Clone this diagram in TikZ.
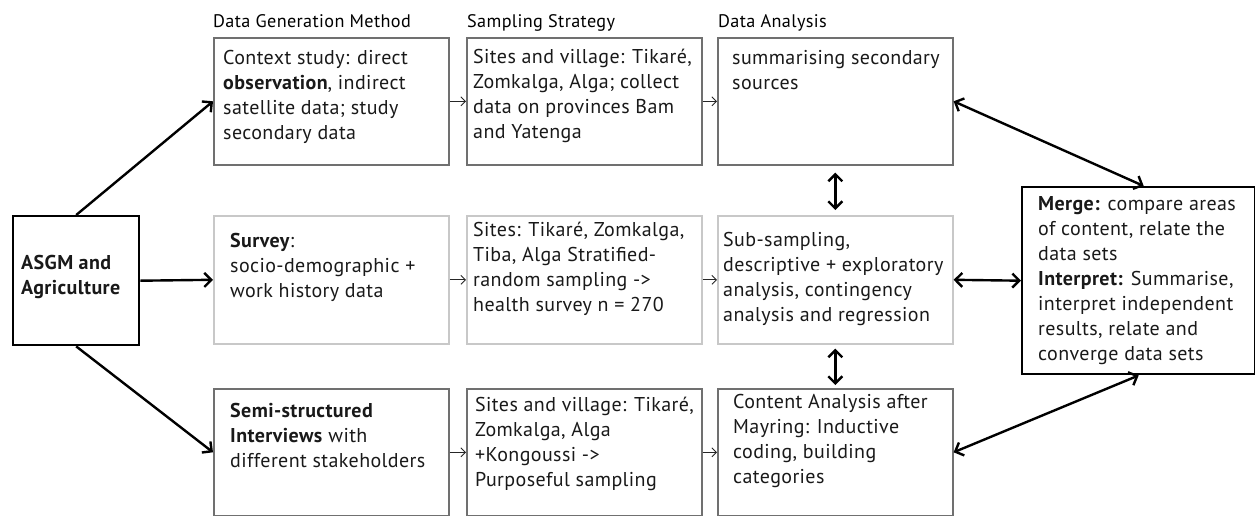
\documentclass[tikz,border=0pt]{standalone}
\usepackage{fontspec}
\setmainfont{PT Sans}[LetterSpace=2]
\usetikzlibrary{arrows.meta}
\definecolor{darkframe}{RGB}{112,112,112}
\definecolor{lightframe}{RGB}{200,200,200}
\begin{document}
\begin{tikzpicture}[x=1pt,y=-1pt,
  panel/.style={draw=darkframe, line width=1.6pt, rectangle, anchor=north west,
    minimum width=235pt, minimum height=127pt, inner sep=0pt},
  lightpanel/.style={panel, draw=lightframe, minimum height=128pt},
  keypanel/.style={draw=black, line width=2.4pt, rectangle, anchor=north west, inner sep=0pt},
  txt/.style={anchor=north west, inner sep=0pt, align=left,
    font=\fontsize{20}{25}\selectfont, text=black!90},
  head/.style={anchor=north west, inner sep=0pt, font=\fontsize{18.2}{20}\selectfont},
  thin/.style={draw=black!85, line width=0.9pt, -{Straight Barb[length=4.5pt,width=9pt]}},
  thick/.style={draw=black, line width=2.4pt, -{Straight Barb[length=7pt,width=14pt]}},
  both/.style={thick, {Straight Barb[length=7pt,width=14pt]}-{Straight Barb[length=7pt,width=14pt]}}]

\useasboundingbox (0,0) rectangle (1255,516);

% column headings
\node[head] (h1) at (213,14) {Data Generation Method};
\node[head] (h2) at (467,14) {Sampling Strategy};
\node[head] (h3) at (718,14) {Data Analysis};

% source box
\node[keypanel, minimum width=126pt, minimum height=129pt] (a) at (12,215) {};
\node[txt, font=\fontsize{20}{25}\selectfont\bfseries] (at) at ([shift={(9,40)}]a.north west)
  {ASGM and\\Agriculture};

% context study row
\node[panel] (g1) at (213,37) {};
\node[panel] (g2) at (466,37) {};
\node[panel] (g3) at (717,37) {};
\node[txt] (g1t) at ([shift={(10,13)}]g1.north west)
  {Context study: direct\\\textbf{observation}, indirect\\satellite data; study\\secondary data};
\node[txt] (g2t) at ([shift={(7,12)}]g2.north west)
  {Sites and village: Tikaré,\\Zomkalga, Alga; collect\\data on provinces Bam\\and Yatenga};
\node[txt] (g3t) at ([shift={(15,13)}]g3.north west)
  {summarising secondary\\sources};

% survey row
\node[lightpanel] (s1) at (213,215) {};
\node[lightpanel] (s2) at (466,215) {};
\node[lightpanel] (s3) at (717,215) {};
\node[txt] (s1t) at ([shift={(17,18)}]s1.north west)
  {\textbf{Survey}:\\socio-demographic +\\work history data};
\node[txt] (s2t) at ([shift={(7,7)}]s2.north west)
  {Sites: Tikaré, Zomkalga,\\Tiba, Alga Stratified-\\random sampling ->\\health survey n = 270};
\node[txt] (s3t) at ([shift={(6,17)}]s3.north west)
  {Sub-sampling,\\descriptive + exploratory\\analysis, contingency\\analysis and regression};

% interview row
\node[panel] (i1) at (213,388) {};
\node[panel] (i2) at (466,388) {};
\node[panel] (i3) at (717,388) {};
\node[txt] (i1t) at ([shift={(17,15)}]i1.north west)
  {\textbf{Semi-structured}\\\textbf{Interviews} with\\different stakeholders};
\node[txt] (i2t) at ([shift={(9,9)}]i2.north west)
  {Sites and village: Tikaré,\\Zomkalga, Alga\\+Kongoussi ->\\Purposeful sampling};
\node[txt] (i3t) at ([shift={(16,6)}]i3.north west)
  {Content Analysis after\\Mayring: Inductive\\coding, building\\categories};

% merge and interpret box
\node[keypanel, minimum width=233pt, minimum height=187pt] (m) at (1021,186) {};
\node[txt] (mt) at ([shift={(17,10)}]m.north west)
  {\textbf{Merge:} compare areas\\of content, relate the\\data sets\\\textbf{Interpret:} Summarise,\\interpret independent\\results, relate and\\converge data sets};

% connectors from the source box
\draw[thick] (a.north) -- (g1.west);
\draw[thick] (a.east) -- (s1.west);
\draw[thick] (a.south) -- (i1.west);

% connectors along each row
\draw[thin] (g1.east) -- (g2.west);
\draw[thin] (g2.east) -- (g3.west);
\draw[thin] (s1.east) -- (s2.west);
\draw[thin] (s2.east) -- (s3.west);
\draw[thin] (i1.east) -- (i2.west);
\draw[thin] (i2.east) -- (i3.west);

% links between the analysis boxes
\draw[both, shorten <=7pt, shorten >=5pt] (g3.south) -- (s3.north);
\draw[both, shorten <=4pt, shorten >=3pt] (s3.south) -- (i3.north);

% links to the merge box
\draw[both] (g3.east) -- ([xshift=5pt]m.north);
\draw[both] (s3.east) -- (m.west);
\draw[both] (i3.east) -- (m.south);
\end{tikzpicture}
\end{document}
